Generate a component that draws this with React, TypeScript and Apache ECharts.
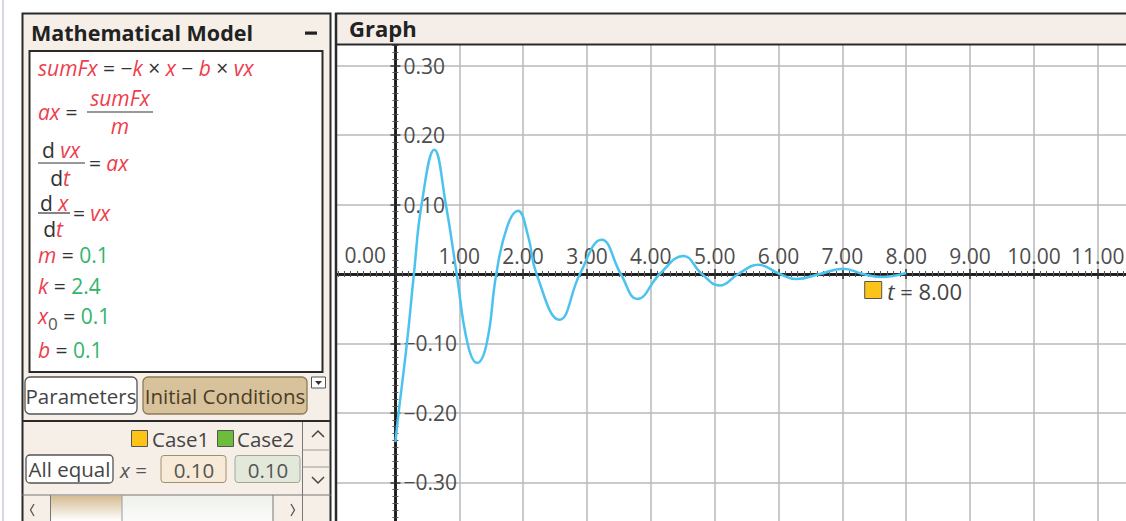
import React, { useEffect, useRef } from "react";
import * as echarts from "echarts";

// ---- data ----
const times = [0, 0.05, 0.18, 0.29, 0.41, 0.61, 0.79, 0.96, 1.13, 1.28, 1.43, 1.58, 1.75, 1.92, 2.08, 2.21, 2.57, 2.89, 3.23, 3.53, 3.79, 4.14, 4.51, 4.8, 5.08, 5.37, 5.68, 6.02, 6.28, 6.65, 7.01, 7.32, 7.6, 8.0];
const positions = [-0.242, -0.2, -0.1, 0, 0.1, 0.179, 0.1, 0, -0.1, -0.128, -0.1, 0, 0.068, 0.091, 0.054, 0, -0.066, 0, 0.0495, 0, -0.036, 0, 0.026, 0, -0.0165, 0, 0.0134, 0, -0.0072, 0, 0.0077, 0, -0.0043, 0.0014];
const xTickLabels = ["1.00", "2.00", "3.00", "4.00", "5.00", "6.00", "7.00", "8.00", "9.00", "10.00", "11.00"];
const yTickLabels = ["0.30", "0.20", "0.10", "\u22120.10", "\u22120.20", "\u22120.30"];
const params = [
  { name: "m", sub: "", value: "0.1" },
  { name: "k", sub: "", value: "2.4" },
  { name: "x", sub: "0", value: "0.1" },
  { name: "b", sub: "", value: "0.1" },
];
const caseNames = ["Case1", "Case2"];
const caseValues = ["0.10", "0.10"];

const FONT = "'Open Sans', Lato, sans-serif";
const RED = "#ee3d4d";
const GREEN = "#33b46c";
const BLK = "#333333";
const UI = 20.5;
const EQ = 21;

let z2c = 0;
const tag = (o: any) => ({ z: 100, z2: z2c++, ...o });
const txt = (x: number, y: number, text: string, s: any = {}) =>
  tag({ type: "text", x, y, style: { text, fontFamily: FONT, fontSize: UI, fill: "#444", verticalAlign: "middle", align: "left", ...s } });
const rect = (x: number, y: number, w: number, h: number, style: any, r = 0) =>
  tag({ type: "rect", shape: { x, y, width: w, height: h, r }, style });
const line = (x1: number, y1: number, x2: number, y2: number, stroke = "#333", lineWidth = 2) =>
  tag({ type: "line", shape: { x1, y1, x2, y2 }, style: { stroke, lineWidth } });
const poly = (points: number[][], stroke = "#444", lineWidth = 1.5) =>
  tag({ type: "polyline", shape: { points }, style: { stroke, lineWidth, fill: null } });

const richEq = {
  r: { fill: RED, fontStyle: "italic", fontSize: EQ, fontFamily: FONT },
  k: { fill: BLK, fontSize: EQ, fontFamily: FONT },
  g: { fill: GREEN, fontSize: EQ, fontFamily: FONT },
  s: { fill: "#555", fontSize: 17, fontFamily: FONT, padding: [15, 0, 0, 0] },
};

function buildPanel(): any[] {
  const els: any[] = [];
  els.push(rect(330, 0, 800, 13, { fill: "#fff" }));
  els.push(rect(329, 0, 8, 521, { fill: "#fff" }));
  els.push(rect(2, 0, 2, 521, { fill: "#ddd4ea" }));
  // left panel
  els.push(rect(22.5, 13.5, 308, 520, { fill: "#f5efe8", stroke: "#2a2a2a", lineWidth: 2 }));
  els.push(txt(31, 32, "Mathematical Model", { fontWeight: "bold", fontSize: 21.5, fill: "#222" }));
  els.push(rect(305, 31.5, 12, 3.2, { fill: "#222" }));
  els.push(rect(29.5, 51, 293, 321, { fill: "#fff", stroke: "#2a2a2a", lineWidth: 2 }));
  // equations
  els.push(txt(38, 68, "{r|sumFx}{k| = \u2212}{r|k}{k| \u00d7 }{r|x}{k| \u2212 }{r|b}{k| \u00d7 }{r|vx}", { rich: richEq }));
  els.push(txt(38, 112, "{r|ax}{k| =}", { rich: richEq }));
  els.push(line(87, 112, 153, 112, BLK, 1.2));
  els.push(txt(120, 98, "{r|sumFx}", { rich: richEq, align: "center" }));
  els.push(txt(120, 126, "{r|m}", { rich: richEq, align: "center" }));
  els.push(txt(42, 150, "{k|d }{r|vx}", { rich: richEq }));
  els.push(line(38, 163, 85, 163, BLK, 1.2));
  els.push(txt(60, 178, "{k|d}{r|t}", { rich: richEq, align: "center" }));
  els.push(txt(89, 163, "{k|=} {r|ax}", { rich: richEq }));
  els.push(txt(40, 203, "{k|d }{r|x}", { rich: richEq }));
  els.push(line(38, 213, 70, 213, BLK, 1.2));
  els.push(txt(53, 229, "{k|d}{r|t}", { rich: richEq, align: "center" }));
  els.push(txt(73, 213, "{k|=} {r|vx}", { rich: richEq }));
  const pY = [255, 286, 316, 350];
  params.forEach((p, i) => {
    const s = p.sub ? `{s|${p.sub}}` : "";
    els.push(txt(38, pY[i], `{r|${p.name}}${s}{k| = }{g|${p.value}}`, { rich: richEq }));
  });
  // tabs
  els.push(rect(25, 377, 112, 37, { fill: "#fff", stroke: "#555", lineWidth: 1.3 }, 5));
  els.push(txt(81, 395.5, "Parameters", { align: "center", fill: "#444" }));
  els.push(rect(143, 377, 164, 37, { fill: "#d8c29b", stroke: "#8c7a58", lineWidth: 1.3 }, 5));
  els.push(txt(225, 395.5, "Initial Conditions", { align: "center", fill: "#4a3d25" }));
  els.push(rect(311.5, 377, 14, 11, { fill: "#fff", stroke: "#555", lineWidth: 1 }));
  els.push(tag({ type: "polygon", shape: { points: [[315, 381], [322, 381], [318.5, 385]] }, style: { fill: "#333" } }));
  els.push(line(22, 421, 331, 421, "#2a2a2a", 2));
  // right column
  els.push(line(302.5, 422, 302.5, 521, "#777", 1));
  els.push(line(302.5, 450, 330, 450, "#999", 1));
  els.push(line(302.5, 467, 330, 467, "#999", 1));
  els.push(poly([[312, 437], [318, 431], [324, 437]]));
  els.push(poly([[312, 477], [318, 483], [324, 477]]));
  // cases
  els.push(rect(131.5, 430.5, 16, 16, { fill: "#fcc419", stroke: "#555", lineWidth: 1 }));
  els.push(txt(152, 438.5, caseNames[0], { fill: "#444" }));
  els.push(rect(217.5, 430.5, 16, 16, { fill: "#6cbd3c", stroke: "#555", lineWidth: 1 }));
  els.push(txt(237, 438.5, caseNames[1], { fill: "#444" }));
  els.push(rect(26, 455, 87, 28, { fill: "#fff", stroke: "#555", lineWidth: 1.3 }, 4));
  els.push(txt(69.5, 469, "All equal", { align: "center", fill: "#444" }));
  els.push(txt(120, 470, "{i|x}{k| =}", { rich: { i: { fill: "#555", fontStyle: "italic", fontSize: UI, fontFamily: FONT }, k: { fill: "#555", fontSize: UI, fontFamily: FONT } } }));
  els.push(rect(161, 455.5, 65, 27, { fill: "#f7ead6", stroke: "#a09070", lineWidth: 1 }, 3));
  els.push(txt(194, 469.5, caseValues[0], { align: "center", fill: "#555" }));
  els.push(rect(235, 455.5, 65, 27, { fill: "#e3e9da", stroke: "#a0a898", lineWidth: 1 }, 3));
  els.push(txt(268, 469.5, caseValues[1], { align: "center", fill: "#555" }));
  // scrollbar
  els.push(line(22, 495, 331, 495, "#777", 1));
  els.push(rect(51, 496, 71, 25, { fill: new echarts.graphic.LinearGradient(0, 0, 0, 1, [{ offset: 0, color: "#d5bd94" }, { offset: 1, color: "#ffffff" }]) }));
  els.push(rect(122, 496, 151, 25, { fill: new echarts.graphic.LinearGradient(0, 0, 0, 1, [{ offset: 0, color: "#eef1ec" }, { offset: 1, color: "#fbfcfa" }]) }));
  els.push(line(50.5, 495, 50.5, 521, "#777", 1));
  els.push(line(122, 495, 122, 521, "#999", 1));
  els.push(line(273, 495, 273, 521, "#777", 1));
  els.push(poly([[34, 504], [30.5, 510], [34, 516]], "#555", 1.3));
  els.push(poly([[291, 504], [294.5, 510], [291, 516]], "#555", 1.3));
  // graph panel
  els.push(rect(336, 13.5, 800, 31, { fill: "#f5eee8", stroke: "#2a2a2a", lineWidth: 2 }));
  els.push(line(336, 13, 336, 521, "#2a2a2a", 2.5));
  els.push(txt(349, 28, "Graph", { fontWeight: "bold", fontSize: 22, fill: "#222" }));
  els.push(txt(386, 255, "0.00", { align: "right", fontSize: 21, fill: "#4d4d4d" }));
  return els;
}

const axisLineStyle = { color: "#1a1a1a", width: 2.5 };
const tickStyle = { color: "#333", width: 1.5 };
const minorStyle = { color: "#555", width: 1 };

const xFmt = (v: number) => {
  const r = Math.round(v);
  if (Math.abs(v - r) > 1e-6 || r < 1 || r > xTickLabels.length) return "";
  return xTickLabels[r - 1];
};
const yFmt = (v: number) => {
  const r = Math.round(v * 10);
  if (Math.abs(v * 10 - r) > 1e-6 || r === 0 || Math.abs(r) > 3) return "";
  return yTickLabels[r > 0 ? 3 - r : 2 - r];
};

// plot geometry (pixels)
const PL = 331.55, PR = -3.7, PT = -3.7, PB = -30.7;
const X0 = 395.4, Y0 = 274.0, W = 1126, H = 521;

export default function App() {
  const ref = useRef<HTMLDivElement>(null);
  useEffect(() => {
    if (!ref.current) return;
    z2c = 0;
    const chart = echarts.init(ref.current, undefined, { renderer: "svg" });
    const panel = buildPanel();
    const xC = { type: "value", min: -1, max: 11.5, interval: 1 };
    const yC = { type: "value", min: -0.4, max: 0.4, interval: 0.1 };
    const hidden = { type: "value", min: 0, max: 1, show: false };
    const noLine = { show: false, onZero: false };
    const option: any = {
      animation: false,
      grid: [
        { left: PL, right: PR, top: PT, bottom: PB, outerBoundsMode: "none" },
        { left: PL, right: PR, top: PT, bottom: H - Y0, outerBoundsMode: "none" },
        { left: PL, right: PR, top: Y0, bottom: PB, outerBoundsMode: "none" },
        { left: X0, right: PR, top: PT, bottom: PB, outerBoundsMode: "none" },
        { left: PL, right: W - X0, top: PT, bottom: PB, outerBoundsMode: "none" },
      ],
      xAxis: [
        { ...xC, gridIndex: 0, axisLine: noLine, axisTick: { show: false }, axisLabel: { show: false },
          splitLine: { show: true, lineStyle: { color: "#b8b8b8", width: 1.5 } } },
        { ...xC, gridIndex: 1, position: "bottom",
          axisLine: { show: true, onZero: false, lineStyle: axisLineStyle },
          axisTick: { show: true, length: 5, lineStyle: tickStyle },
          minorTick: { show: true, splitNumber: 10, length: 3, lineStyle: minorStyle },
          axisLabel: { inside: true, margin: 8, formatter: xFmt, fontFamily: FONT, fontSize: 21, color: "#4d4d4d" },
          splitLine: { show: false } },
        { ...xC, gridIndex: 2, position: "top",
          axisLine: { show: true, onZero: false, lineStyle: axisLineStyle },
          axisTick: { show: true, length: 5, lineStyle: tickStyle },
          minorTick: { show: true, splitNumber: 10, length: 3, lineStyle: minorStyle },
          axisLabel: { show: false }, splitLine: { show: false } },
        { ...hidden, gridIndex: 3 },
        { ...hidden, gridIndex: 4 },
      ],
      yAxis: [
        { ...yC, gridIndex: 0, axisLine: noLine, axisTick: { show: false }, axisLabel: { show: false },
          splitLine: { show: true, lineStyle: { color: "#b8b8b8", width: 1.5 } } },
        { ...hidden, gridIndex: 1 },
        { ...hidden, gridIndex: 2 },
        { ...yC, gridIndex: 3, position: "left",
          axisLine: { show: true, onZero: false, lineStyle: axisLineStyle },
          axisTick: { show: true, length: 5, lineStyle: tickStyle },
          minorTick: { show: true, splitNumber: 10, length: 3, lineStyle: minorStyle },
          axisLabel: { inside: true, margin: 8, formatter: yFmt, fontFamily: FONT, fontSize: 21, color: "#4d4d4d" },
          splitLine: { show: false } },
        { ...yC, gridIndex: 4, position: "right",
          axisLine: { show: true, onZero: false, lineStyle: axisLineStyle },
          axisTick: { show: true, length: 5, lineStyle: tickStyle },
          minorTick: { show: true, splitNumber: 10, length: 3, lineStyle: minorStyle },
          axisLabel: { show: false }, splitLine: { show: false } },
      ],
      series: [
        {
          type: "line", xAxisIndex: 0, yAxisIndex: 0,
          data: times.map((t, i) => [t, positions[i]]),
          smooth: 0.45, showSymbol: false, symbol: "none",
          lineStyle: { color: "#4cc3ef", width: 2.5 },
          z: 5,
        },
      ],
      graphic: { elements: panel },
    };
    chart.setOption(option);
    const tEnd = times[times.length - 1];
    const p = chart.convertToPixel({ xAxisIndex: 0, yAxisIndex: 0 } as any, [tEnd, 0]) as number[];
    if (p && isFinite(p[0])) {
      const marker = [
        rect(p[0] - 41.5, p[1] + 7.5, 17, 17, { fill: "#fcc419", stroke: "#555", lineWidth: 1 }),
        txt(p[0] - 19, p[1] + 16.5, `{i|t}{k| = ${tEnd.toFixed(2)}}`, {
          rich: { i: { fill: "#444", fontStyle: "italic", fontSize: 22, fontFamily: FONT }, k: { fill: "#444", fontSize: 22, fontFamily: FONT } },
        }),
      ];
      chart.setOption({ graphic: { elements: [...panel, ...marker] } });
    }
    return () => chart.dispose();
  }, []);
  return <div ref={ref} style={{ position: "absolute", left: 0, top: 0, width: W, height: H }} />;
}
